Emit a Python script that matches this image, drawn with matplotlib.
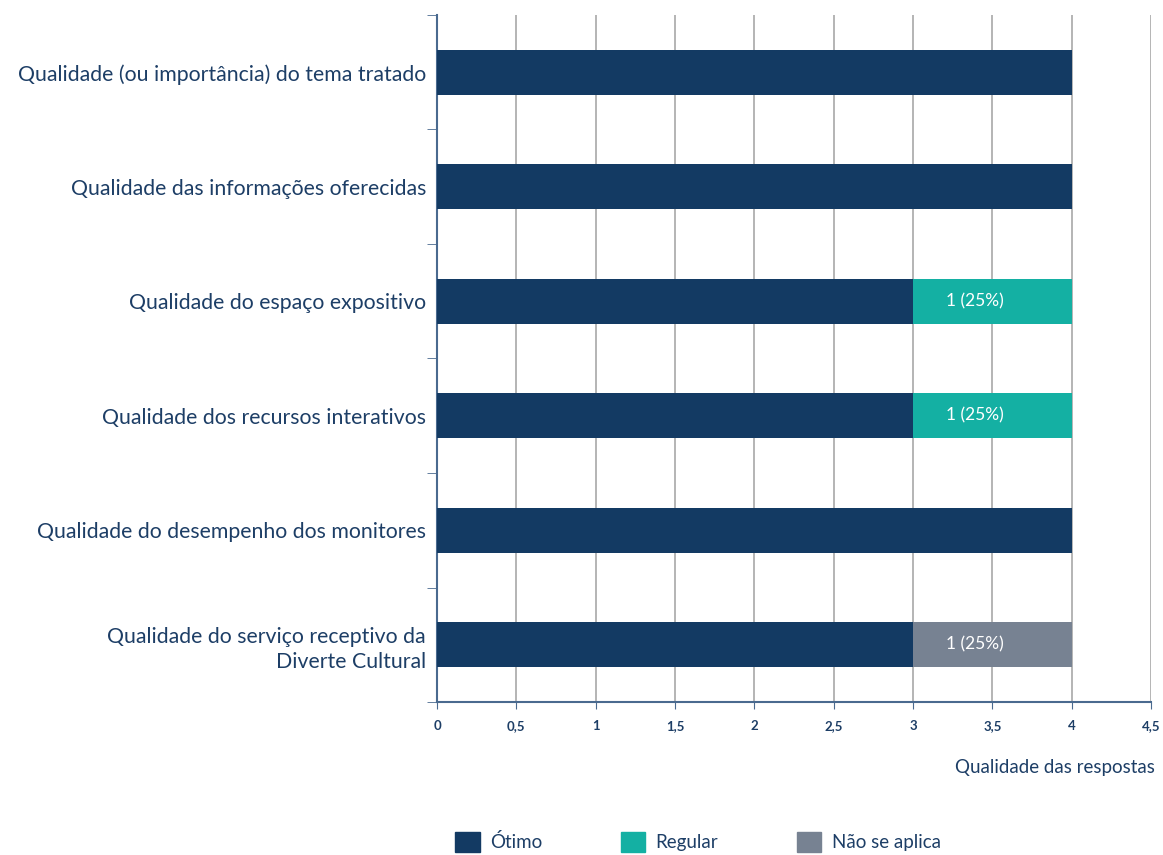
import numpy as np
import matplotlib.pyplot as plt
from matplotlib.patches import Patch

plt.rcParams['font.family'] = ['Lato', 'DejaVu Sans']

categorias = [
    "Qualidade (ou importância) do tema tratado",
    "Qualidade das informações oferecidas",
    "Qualidade do espaço expositivo",
    "Qualidade dos recursos interativos",
    "Qualidade do desempenho dos monitores",
    "Qualidade do serviço receptivo da\nDiverte Cultural",
]
otimo = [4, 4, 3, 3, 4, 3]
regular = [0, 0, 1, 1, 0, 0]
nao_aplica = [0, 0, 0, 0, 0, 1]
rotulos_regular = ["", "", "1 (25%)", "1 (25%)", "", ""]
rotulos_nao = ["", "", "", "", "", "1 (25%)"]

cor_otimo = "#133a63"
cor_regular = "#14b0a3"
cor_nao = "#778292"
cor_texto = "#1d3e66"

fig = plt.figure(figsize=(11.63, 8.55), dpi=100)
ax = fig.add_axes([437 / 1163, 1 - 702 / 855, (1151 - 437) / 1163, (702 - 15) / 855])

y = np.arange(len(categorias))
h = 0.39
ax.barh(y, otimo, height=h, color=cor_otimo, zorder=3)
ax.barh(y, regular, left=otimo, height=h, color=cor_regular, zorder=3)
left2 = np.array(otimo) + np.array(regular)
ax.barh(y, nao_aplica, left=left2, height=h, color=cor_nao, zorder=3)

# rótulos um pouco à esquerda do centro, como no original
for i in range(len(categorias)):
    if rotulos_regular[i]:
        ax.text(otimo[i] + regular[i] / 2 - 0.11, y[i], rotulos_regular[i], ha="center",
                va="center", color="white", fontsize=12.5, zorder=4)
    if rotulos_nao[i]:
        ax.text(left2[i] + nao_aplica[i] / 2 - 0.11, y[i], rotulos_nao[i], ha="center",
                va="center", color="white", fontsize=12.5, zorder=4)

ax.set_xlim(0, 4.5)
ax.set_ylim(len(categorias) - 0.5, -0.5)
ax.set_xticks(np.arange(0, 4.51, 0.5))
ax.set_xticklabels([("%g" % v).replace(".", ",") for v in np.arange(0, 4.51, 0.5)],
                   fontsize=9.5, fontweight="bold", color=cor_texto)
ax.grid(axis="x", color="#a8a8a8", linewidth=1.2, zorder=0)

ax.set_yticks(y)
ax.set_yticklabels(categorias, fontsize=15.3, color=cor_texto, ha="right", linespacing=1.3)
ax.tick_params(axis="y", length=0, pad=8)
ax.set_yticks(np.arange(-0.5, len(categorias), 1), minor=True)
ax.tick_params(axis="y", which="minor", length=7, color="#4a6a8f")
ax.tick_params(axis="x", length=5, color="#4a6a8f", pad=8)

for s in ["top", "right"]:
    ax.spines[s].set_visible(False)
ax.spines["left"].set_color("#4a6a8f")
ax.spines["bottom"].set_color("#4a6a8f")
ax.spines["left"].set_linewidth(1.5)
ax.spines["bottom"].set_linewidth(1.5)

fig.text(1155 / 1163, 1 - 767 / 855, "Qualidade das respostas", ha="right", va="center",
         fontsize=13.5, color=cor_texto)

handles = [Patch(color=cor_otimo, label="Ótimo"),
           Patch(color=cor_regular, label="Regular"),
           Patch(color=cor_nao, label="Não se aplica")]
leg = fig.legend(handles=handles, loc="center", bbox_to_anchor=(698 / 1163, 1 - 842 / 855),
                 ncol=3, frameon=False, fontsize=13.5, handlelength=1.3, handleheight=1.3,
                 columnspacing=4.2, handletextpad=0.55)
for t in leg.get_texts():
    t.set_color(cor_texto)

fig.savefig("out.png", dpi=100)
